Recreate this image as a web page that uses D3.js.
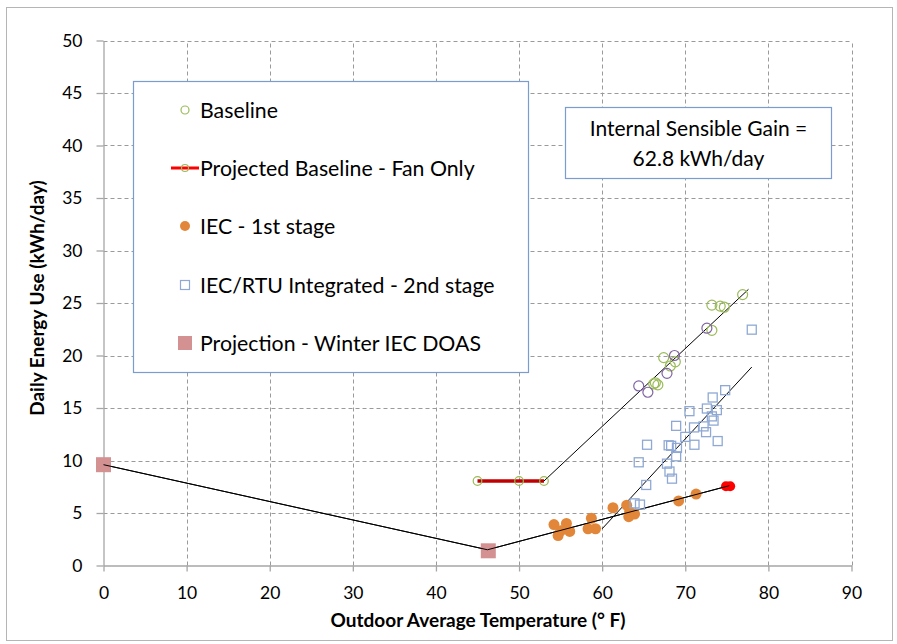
<!DOCTYPE html>
<html>
<head>
<meta charset="utf-8">
<script src="https://cdn.jsdelivr.net/npm/d3@7"></script>
<style>
  html,body{margin:0;padding:0;background:#fff;}
  svg{display:block;}
  text{font-family:Lato,"Open Sans",sans-serif;fill:#000;}
</style>
</head>
<body>
<svg id="chart" width="897" height="644"></svg>
<script>
// ---- data ----
const xTicks = [0,10,20,30,40,50,60,70,80,90];
const yTicks = [0,5,10,15,20,25,30,35,40,45,50];

const baseline = [[76.9,25.8],[73.2,24.8],[74.2,24.7],[74.7,24.6],[73.2,22.4],[67.4,19.8],[68.8,19.4],[68.2,19.0],[66.4,17.4],[66.7,17.2],[66.2,17.3]];
const baselineOther = [[72.6,22.6],[68.7,20.0],[67.8,18.3],[64.4,17.1],[65.5,16.5]];
const fanOnly = [[45,8.05],[50,8.05],[53,8.05]];
const iec1 = [[54.2,3.9],[55.7,4.0],[54.7,2.85],[56.1,3.25],[55.0,3.3],[58.7,4.5],[58.3,3.5],[59.2,3.5],[61.3,5.5],[62.95,5.75],[63.3,5.1],[63.2,4.65],[63.9,4.9],[69.2,6.15],[71.3,6.8]];
const iecProjected = [[74.9,7.55],[75.4,7.55]];
const rtu2 = [[78.0,22.46],[74.8,16.7],[73.3,16.0],[72.6,14.95],[73.8,14.8],[70.5,14.7],[73.2,14.2],[73.4,13.8],[72.2,13.25],[68.9,13.3],[71.05,13.15],[72.5,12.7],[70.0,12.25],[73.9,11.85],[71.1,11.5],[65.4,11.5],[68.0,11.45],[68.3,11.4],[69.0,11.2],[68.9,10.4],[64.4,9.83],[67.8,9.7],[68.1,8.95],[68.4,8.27],[65.3,7.67],[63.9,5.92],[64.55,5.8]];
const winter = [[0,9.6],[46.3,1.4]];

const winterLine = [[0,9.6],[46.2,1.5]];
const iecLine = [[46.2,1.5],[75.3,7.6]];
const baseFitLine = [[53,8.05],[77.6,26.3]];
const rtuLine = [[60,3.5],[78,18.9]];

const legendLabels = ["Baseline","Projected Baseline - Fan Only","IEC - 1st stage","IEC/RTU Integrated - 2nd stage","Projection - Winter IEC DOAS"];
const noteLines = ["Internal Sensible Gain =","62.8 kWh/day"];
const xTitle = "Outdoor Average Temperature (° F)";
const yTitle = "Daily Energy Use (kWh/day)";

// ---- colours ----
const C = {green:"#9BBB59", purple:"#8064A2", orange:"#E2873A", blue:"#8FA9D4", winter:"#D49191", red:"#FF0000", fan:"#C00000", grid:"#9a9a9a", axis:"#a6a6a6", box:"#7A9CCF"};

const svg = d3.select("#chart");
const x = d3.scaleLinear().domain([0,90]).range([103.5,851.5]);
const y = d3.scaleLinear().domain([0,50]).range([565.5,40.5]);

// outer border
svg.append("rect").attr("x",6.5).attr("y",7.5).attr("width",886).attr("height",633)
  .attr("fill","#fff").attr("stroke","#b5b5b5").attr("stroke-width",1);

// gridlines
svg.append("g").selectAll("line").data(yTicks.filter(d=>d>0)).join("line")
  .attr("x1",x(0)).attr("x2",x(90)).attr("y1",d=>Math.round(y(d))+0.5).attr("y2",d=>Math.round(y(d))+0.5)
  .attr("stroke",C.grid).attr("stroke-dasharray","4,3").attr("stroke-width",1);
svg.append("g").selectAll("line").data(xTicks.filter(d=>d>0)).join("line")
  .attr("y1",y(0)).attr("y2",y(50)).attr("x1",d=>Math.round(x(d))+0.5).attr("x2",d=>Math.round(x(d))+0.5)
  .attr("stroke",C.grid).attr("stroke-dasharray","4,3").attr("stroke-width",1);

// axes
const xAxis = d3.axisBottom(x).tickValues(xTicks).tickSize(6).tickPadding(15).tickSizeOuter(0);
const yAxis = d3.axisLeft(y).tickValues(yTicks).tickSize(7).tickPadding(14).tickSizeOuter(0);
const gx = svg.append("g").attr("transform",`translate(0,${y(0)})`).call(xAxis);
const gy = svg.append("g").attr("transform",`translate(${x(0)},0)`).call(yAxis);
[gx,gy].forEach(g=>{
  g.select(".domain").attr("stroke",C.axis).attr("stroke-width",1.3);
  g.selectAll(".tick line").attr("stroke",C.axis).attr("stroke-width",1.3);
  g.selectAll(".tick text").attr("font-size",17.5).attr("font-family","Lato,'Open Sans',sans-serif").attr("fill","#000");
});

// axis titles
svg.append("text").attr("x",478).attr("y",627).attr("text-anchor","middle")
  .attr("font-size",19).attr("font-weight","bold").text(xTitle);
svg.append("text").attr("transform","translate(44,298) rotate(-90)").attr("text-anchor","middle")
  .attr("font-size",19).attr("font-weight","bold").text(yTitle);

// legend box
svg.append("rect").attr("x",133.5).attr("y",81.5).attr("width",395).attr("height",291)
  .attr("fill","#fff").attr("stroke",C.box).attr("stroke-width",1.2);
const legY = [110,168,226,285,343];
const lg = svg.append("g");
lg.append("circle").attr("cx",185).attr("cy",legY[0]).attr("r",4).attr("fill","none").attr("stroke",C.green).attr("stroke-width",1.2);
lg.append("line").attr("x1",171).attr("x2",199).attr("y1",legY[1]).attr("y2",legY[1]).attr("stroke",C.red).attr("stroke-width",3);
lg.append("circle").attr("cx",185).attr("cy",legY[1]).attr("r",3.5).attr("fill","none").attr("stroke",C.green).attr("stroke-width",1.2);
lg.append("circle").attr("cx",185).attr("cy",legY[2]).attr("r",5).attr("fill",C.orange);
lg.append("rect").attr("x",180.5).attr("y",legY[3]-4.5).attr("width",9).attr("height",9).attr("fill","none").attr("stroke",C.blue).attr("stroke-width",1.2);
lg.append("rect").attr("x",178).attr("y",legY[4]-7).attr("width",14).attr("height",14).attr("fill",C.winter);
lg.selectAll("text").data(legendLabels).join("text")
  .attr("x",200).attr("y",(d,i)=>legY[i]+7.5).attr("font-size",21.3).text(d=>d);

// note box
svg.append("rect").attr("x",565.5).attr("y",107.5).attr("width",266).attr("height",71)
  .attr("fill","#fff").attr("stroke",C.box).attr("stroke-width",1.2);
svg.append("g").selectAll("text").data(noteLines).join("text")
  .attr("x",698.5).attr("y",(d,i)=>136+i*30).attr("text-anchor","middle").attr("font-size",21).text(d=>d);

// fit lines
const line = d3.line().x(d=>x(d[0])).y(d=>y(d[1]));
[winterLine,iecLine,baseFitLine,rtuLine].forEach(l=>{
  svg.append("path").attr("d",line(l)).attr("fill","none").attr("stroke","#000").attr("stroke-width",1);
});

// winter squares
svg.append("g").selectAll("rect").data(winter).join("rect")
  .attr("x",d=>x(d[0])-7.5).attr("y",d=>y(d[1])-7.5).attr("width",15).attr("height",15).attr("fill",C.winter);
svg.append("path").attr("d",line(winterLine.concat(iecLine.slice(0,1)))).attr("fill","none").attr("stroke","#000").attr("stroke-width",1);

// IEC 1st stage
svg.append("g").selectAll("circle").data(iec1).join("circle")
  .attr("cx",d=>x(d[0])).attr("cy",d=>y(d[1])).attr("r",5.5).attr("fill",C.orange);
svg.append("g").selectAll("circle").data(iecProjected).join("circle")
  .attr("cx",d=>x(d[0])).attr("cy",d=>y(d[1])).attr("r",5).attr("fill",C.red);
svg.append("path").attr("d",line(iecLine)).attr("fill","none").attr("stroke","#000").attr("stroke-width",1);

// RTU squares
svg.append("g").selectAll("rect").data(rtu2).join("rect")
  .attr("x",d=>x(d[0])-4.5).attr("y",d=>y(d[1])-4.5).attr("width",9).attr("height",9)
  .attr("fill","none").attr("stroke",C.blue).attr("stroke-width",1.3);

// fan only
svg.append("path").attr("d",line(fanOnly)).attr("fill","none").attr("stroke",C.fan).attr("stroke-width",3.5);
svg.append("g").selectAll("circle").data(fanOnly).join("circle")
  .attr("cx",d=>x(d[0])).attr("cy",d=>y(d[1])).attr("r",4.3).attr("fill","none").attr("stroke",C.green).attr("stroke-width",1.2);

// baseline
svg.append("g").selectAll("circle").data(baseline).join("circle")
  .attr("cx",d=>x(d[0])).attr("cy",d=>y(d[1])).attr("r",5).attr("fill","none").attr("stroke",C.green).attr("stroke-width",1.2);
svg.append("g").selectAll("circle").data(baselineOther).join("circle")
  .attr("cx",d=>x(d[0])).attr("cy",d=>y(d[1])).attr("r",5).attr("fill","none").attr("stroke",C.purple).attr("stroke-width",1.2);
</script>
</body>
</html>
